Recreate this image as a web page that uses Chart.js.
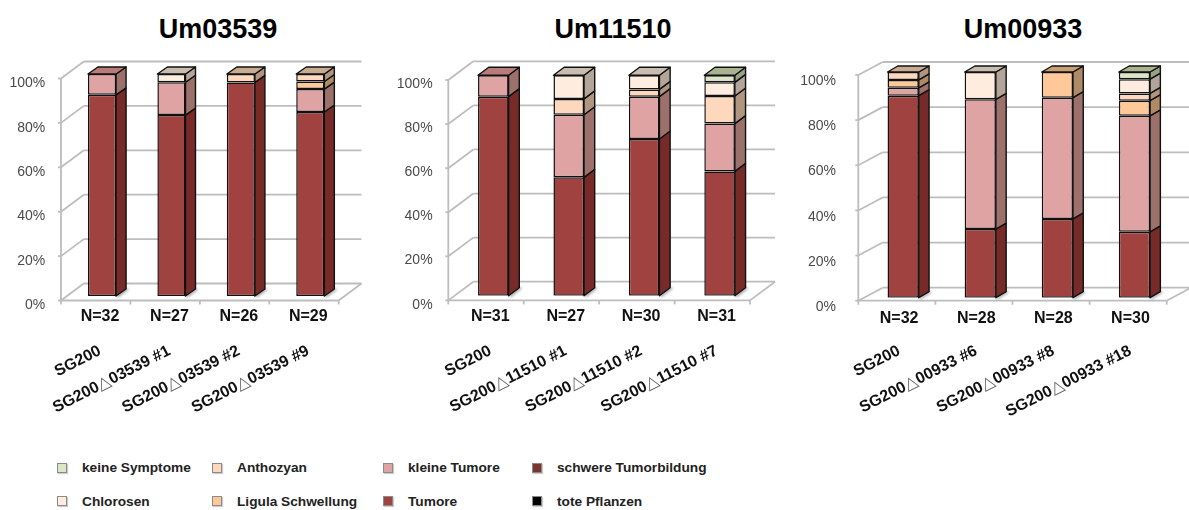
<!DOCTYPE html>
<html lang="de">
<head>
  <meta charset="UTF-8">
  <title>Symptome Um03539 Um11510 Um00933</title>
  <script src="https://cdn.jsdelivr.net/npm/chart.js"></script>
  <style>
    html, body { margin: 0; width: 1189px; height: 510px; overflow: hidden; background: #fff; }
    body { position: relative; font-family: "Liberation Sans", Arial, sans-serif; }
    canvas { position: absolute; top: 0; }
    .title { position: absolute; top: 12px; transform: translateX(-50%); font-size: 27px; line-height: 34px; font-weight: bold; color: #000; }
    #legend {
      position: absolute; left: 57px; top: 451px;
      display: grid; grid-auto-flow: column;
      grid-template-rows: 33.5px 33.5px;
      grid-template-columns: 155px 171px 149px 200px;
    }
    .item { display: flex; align-items: center; font-size: 13.7px; font-weight: bold; color: #222; white-space: nowrap; }
    .swatch { width: 8px; height: 8px; border: 1.5px solid #8a8a8a; box-shadow: 1px 1px 1px #ccc; flex: none; }
  </style>
</head>

<body>
  <div id="legend"></div>

  <script>
    // Um03539
    const categories03539 = ['N=32', 'N=27', 'N=26', 'N=29'];
    const names03539 = ['SG200', 'SG200△03539 #1', 'SG200△03539 #2', 'SG200△03539 #9'];
    const tumore03539 = [90.6, 81.5, 96.2, 82.9];
    const kleine03539 = [9.4, 14.8, 0, 10.3];
    const ligula03539 = [0, 0, 0, 3.4];
    const anthozyan03539 = [0, 0, 3.8, 3.4];
    const chlorosen03539 = [0, 3.7, 0, 0];
    const keine03539 = [0, 0, 0, 0];

    // Um11510
    const categories11510 = ['N=31', 'N=27', 'N=30', 'N=31'];
    const names11510 = ['SG200', 'SG200△11510 #1', 'SG200△11510 #2', 'SG200△11510 #7'];
    const tumore11510 = [90.3, 53.7, 71.1, 56.4];
    const kleine11510 = [9.7, 28.4, 19.2, 21.7];
    const ligula11510 = [0, 0, 0, 0];
    const anthozyan11510 = [0, 7.2, 3.3, 12.5];
    const chlorosen11510 = [0, 10.7, 6.4, 6.2];
    const keine11510 = [0, 0, 0, 3.2];

    // Um00933
    const categories00933 = ['N=32', 'N=28', 'N=28', 'N=30'];
    const names00933 = ['SG200', 'SG200△00933 #6', 'SG200△00933 #8', 'SG200△00933 #18'];
    const tumore00933 = [89.5, 30.4, 34.9, 29.2];
    const kleine00933 = [3.5, 57.5, 53.7, 51.4];
    const ligula00933 = [3.5, 0, 11.4, 6.7];
    const anthozyan00933 = [3.5, 0, 0, 3.2];
    const chlorosen00933 = [0, 12.1, 0, 6.3];
    const keine00933 = [0, 0, 0, 3.2];

    // not seen in any strain
    const schwere = [0, 0, 0, 0];
    const tote = [0, 0, 0, 0];

    // bottom to top of the stack
    const seriesNames = ['tote Pflanzen', 'schwere Tumorbildung', 'Tumore', 'kleine Tumore', 'Ligula Schwellung', 'Anthozyan', 'Chlorosen', 'keine Symptome'];
    const frontColors = ['#000000', '#7b3430', '#a04340', '#dfa3a3', '#fec898', '#fdd8bd', '#feeddf', '#dce6c6'];
    const sideColors = ['#000000', '#551f1c', '#772b29', '#9c716c', '#ae8a66', '#b09581', '#b3a599', '#99a288'];
    const topColors = ['#000000', '#5f2522', '#8a3a38', '#b97c7b', '#c9a074', '#c9ab92', '#c9bcb0', '#a9b38f'];

    const legendOrder = ['keine Symptome', 'Chlorosen', 'Anthozyan', 'Ligula Schwellung', 'kleine Tumore', 'Tumore', 'schwere Tumorbildung', 'tote Pflanzen'];

    const panelTitles = ['Um03539', 'Um11510', 'Um00933'];
    const titleCenters = [218, 613, 1023];
    const canvasHeight = 445;

    // plot box of the bars, then the shift from it to the front edge, back wall and bar depth
    const boxes = [
      { left: 0, width: 395, plotLeft: 67.3, plotRight: 345, top: 74, bottom: 296, pad: 14, labelShift: 9.3, front: [-6.3, 4.5], back: [16.5, -12.5], depth: [10, -7], nudge: -2 },
      { left: 390, width: 400, plotLeft: 455.6, plotRight: 757.3, top: 75.3, bottom: 295.7, pad: 15, labelShift: 9, front: [-7.3, 4.7], back: [17.7, -14], depth: [10.7, -8], nudge: -3 },
      { left: 795, width: 394, plotLeft: 864.6, plotRight: 1173, top: 72, bottom: 297.7, pad: 20.6, labelShift: 9.3, front: [-6.3, 3], back: [18, -10], depth: [10.3, -6], nudge: -4 }
    ];

    function polygon(ctx, points) {
      ctx.beginPath();
      points.forEach((p, i) => i ? ctx.lineTo(p[0], p[1]) : ctx.moveTo(p[0], p[1]));
      ctx.closePath();
    }

    function segment(ctx, x1, y1, x2, y2) {
      ctx.beginPath();
      ctx.moveTo(x1, y1);
      ctx.lineTo(x2, y2);
      ctx.stroke();
    }

    // walls, floor and the shadow at the foot of each bar
    const wallsPlugin = {
      id: 'walls',
      beforeDatasetsDraw(chart, args, opts) {
        const { ctx, chartArea, scales } = chart;
        const [fx, fy] = opts.front;
        const [bx, by] = opts.back;
        const [dx, dy] = opts.depth;
        const L = chartArea.left, R = chartArea.right;
        ctx.save();
        ctx.strokeStyle = '#bdbdbd';
        ctx.lineWidth = 1.8;
        scales.y.ticks.forEach(t => {
          const p = scales.y.getPixelForValue(t.value);
          segment(ctx, L + fx - 3, p + fy, L + fx, p + fy);
          segment(ctx, L + fx, p + fy, L + bx, p + by);
          segment(ctx, L + bx, p + by, R + bx, p + by);
        });
        const top = scales.y.getPixelForValue(100), zero = scales.y.getPixelForValue(0);
        segment(ctx, L + fx, top + fy, L + fx, zero + fy);
        segment(ctx, L + fx, zero + fy, R + fx, zero + fy);
        segment(ctx, R + fx, zero + fy, R + bx, zero + by);
        const step = (R - L) / chart.data.labels.length;
        for (let i = 0; i <= chart.data.labels.length; i++) {
          const x = L + fx + i * step;
          segment(ctx, x, zero + fy, x, zero + fy + 4);
        }
        ctx.filter = 'blur(1.5px)';
        ctx.fillStyle = 'rgba(0,0,0,0.55)';
        chart.getDatasetMeta(2).data.forEach(el => {
          const r = el.x + el.width / 2;
          polygon(ctx, [[r, zero], [r + dx, zero + dy], [r + dx + 3, zero + dy], [r + 2, zero + 1]]);
          ctx.fill();
        });
        ctx.restore();
      },

      // side and top faces of the stacked segments
      afterDatasetsDraw(chart, args, opts) {
        const { ctx } = chart;
        const [dx, dy] = opts.depth;
        ctx.save();
        ctx.strokeStyle = '#111';
        ctx.lineWidth = 1.4;
        ctx.lineJoin = 'round';
        chart.data.labels.forEach((label, i) => {
          let last = null;
          chart.data.datasets.forEach((ds, d) => {
            if (!ds.data[i]) return;
            const el = chart.getDatasetMeta(d).data[i];
            const r = el.x + el.width / 2;
            polygon(ctx, [[r, el.y], [r + dx, el.y + dy], [r + dx, el.base + dy], [r, el.base]]);
            ctx.fillStyle = sideColors[d];
            ctx.fill();
            ctx.stroke();
            last = { el, d };
          });
          const l = last.el.x - last.el.width / 2, r = last.el.x + last.el.width / 2, y = last.el.y;
          polygon(ctx, [[l, y], [l + dx, y + dy], [r + dx, y + dy], [r, y]]);
          ctx.fillStyle = topColors[last.d];
          ctx.fill();
          ctx.stroke();
        });
        ctx.restore();
      }
    };

    // slanted strain names under the N= row, the triangle is a thinner glyph
    const strainNamesPlugin = {
      id: 'strainNames',
      afterDraw(chart, args, opts) {
        const { ctx, scales } = chart;
        const bold = 'bold 16px "Liberation Sans", Arial, sans-serif';
        const thin = '17px "DejaVu Sans", sans-serif';
        opts.names.forEach((name, i) => {
          const [head, tail] = name.split('△');
          ctx.save();
          ctx.translate(scales.x.getPixelForValue(i) + opts.nudge, 350);
          ctx.rotate(-27 * Math.PI / 180);
          ctx.textBaseline = 'middle';
          ctx.textAlign = 'left';
          ctx.fillStyle = '#111';
          ctx.font = bold;
          const headW = ctx.measureText(head).width;
          const tailW = tail ? ctx.measureText(tail).width : 0;
          ctx.font = thin;
          const triW = tail ? ctx.measureText('△').width : 0;
          let x = -(headW + triW + tailW);
          ctx.font = bold;
          ctx.fillText(head, x, 0);
          if (tail) {
            x += headW;
            ctx.font = thin;
            ctx.fillStyle = '#666';
            ctx.fillText('△', x, 0);
            x += triW;
            ctx.font = bold;
            ctx.fillStyle = '#111';
            ctx.fillText(tail, x, 0);
          }
          ctx.restore();
        });
      }
    };

    function makePanel(box, title, titleX, categories, names, series) {
      const t = document.createElement('div');
      t.className = 'title';
      t.style.left = titleX + 'px';
      t.textContent = title;
      document.body.appendChild(t);

      const canvas = document.createElement('canvas');
      canvas.width = box.width;
      canvas.height = canvasHeight;
      canvas.style.left = box.left + 'px';
      document.body.appendChild(canvas);

      new Chart(canvas.getContext('2d'), {
        type: 'bar',
        data: {
          labels: categories,
          datasets: series.map((values, d) => ({
            label: seriesNames[d],
            data: values,
            backgroundColor: frontColors[d],
            borderColor: '#111',
            borderWidth: ctx => (ctx.raw ? 1.5 : 0),
            borderSkipped: false,
            categoryPercentage: 1,
            barPercentage: 0.405
          }))
        },
        options: {
          responsive: false,
          animation: false,
          layout: {
            padding: {
              left: 0,
              right: box.left + box.width - box.plotRight,
              top: box.top,
              bottom: 0
            }
          },
          plugins: {
            legend: { display: false },
            tooltip: { enabled: false },
            walls: { front: box.front, back: box.back, depth: box.depth },
            strainNames: { names: names, nudge: box.nudge }
          },
          scales: {
            x: {
              stacked: true,
              grid: { display: false },
              border: { display: false },
              afterFit: s => { s.height = canvasHeight - box.bottom; },
              ticks: {
                autoSkip: false,
                maxRotation: 0,
                padding: 3,
                labelOffset: box.nudge,
                color: '#111',
                font: { family: '"Liberation Sans", Arial, sans-serif', size: 16, weight: 'bold' }
              }
            },
            y: {
              stacked: true,
              min: 0,
              max: 100,
              grid: { display: false },
              border: { display: false },
              afterFit: s => { s.width = box.plotLeft - box.left; },
              ticks: {
                stepSize: 20,
                padding: box.pad,
                labelOffset: box.labelShift,
                color: '#4a4a4a',
                font: { family: '"Liberation Sans", Arial, sans-serif', size: 14 },
                callback: v => v + '%'
              }
            }
          }
        },
        plugins: [wallsPlugin, strainNamesPlugin]
      });
    }

    makePanel(boxes[0], panelTitles[0], titleCenters[0], categories03539, names03539,
      [tote, schwere, tumore03539, kleine03539, ligula03539, anthozyan03539, chlorosen03539, keine03539]);
    makePanel(boxes[1], panelTitles[1], titleCenters[1], categories11510, names11510,
      [tote, schwere, tumore11510, kleine11510, ligula11510, anthozyan11510, chlorosen11510, keine11510]);
    makePanel(boxes[2], panelTitles[2], titleCenters[2], categories00933, names00933,
      [tote, schwere, tumore00933, kleine00933, ligula00933, anthozyan00933, chlorosen00933, keine00933]);

    // legend runs in four columns of two rows
    const legend = document.getElementById('legend');
    legendOrder.forEach(name => {
      const item = document.createElement('div');
      item.className = 'item';
      const swatch = document.createElement('span');
      swatch.className = 'swatch';
      swatch.style.background = frontColors[seriesNames.indexOf(name)];
      swatch.style.marginRight = '15px';
      item.appendChild(swatch);
      item.appendChild(document.createTextNode(name));
      legend.appendChild(item);
    });
  </script>
</body>
</html>
